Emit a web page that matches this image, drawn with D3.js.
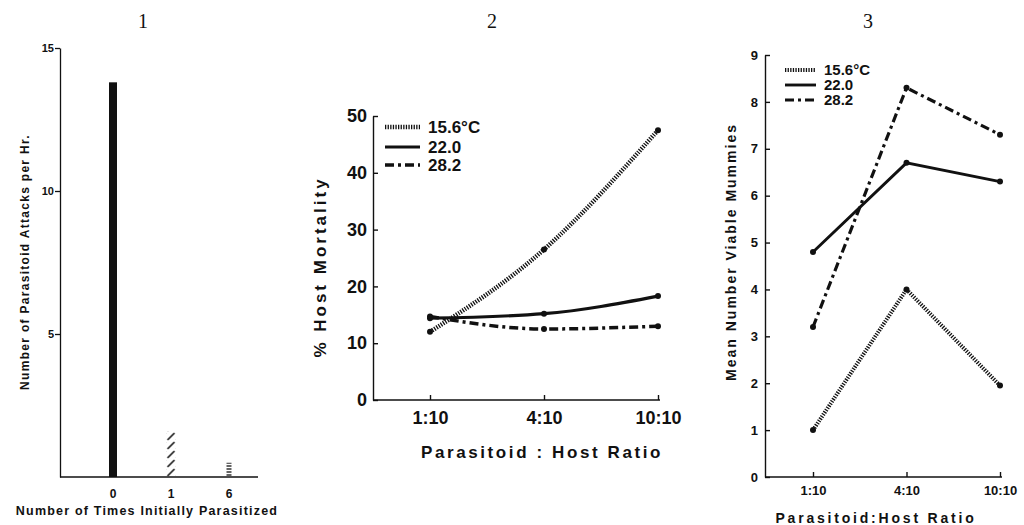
<!DOCTYPE html>
<html>
<head>
<meta charset="utf-8">
<title>Parasitoid figures 1-3</title>
<script src="https://cdn.jsdelivr.net/npm/d3@7"></script>
<style>
 body { margin: 0; background: #fff; }
 svg { display: block; }
 text { font-family: "Liberation Sans", Arial, sans-serif; font-weight: bold; fill: #111; }
 .title { font-family: "Liberation Serif", "Times New Roman", serif; font-weight: normal; font-size: 20px; }
</style>
</head>
<body>
<svg id="chart" width="1024" height="525"></svg>
<script>
// ---- data ----
// panel 1
var timesCats = ["0", "1", "6"];
var attacksPerHr = [13.8, 1.6, 0.5];
var attackTicks = [5, 10, 15];

// panels 2 and 3
var ratioCats = ["1:10", "4:10", "10:10"];
var tempLabels = ["15.6\u00B0C", "22.0", "28.2"];
var mortality156 = [12.0, 26.5, 47.5];
var mortality220 = [14.4, 15.2, 18.3];
var mortality282 = [14.7, 12.5, 13.0];
var mortalityTicks = [0, 10, 20, 30, 40, 50];
var mummies156 = [1.0, 4.0, 1.95];
var mummies220 = [4.8, 6.7, 6.3];
var mummies282 = [3.2, 8.3, 7.3];
var mummyTicks = [0, 1, 2, 3, 4, 5, 6, 7, 8, 9];

// line looks, one per temperature
var lineLook = [
  {width: 4.5, dash: "1.3,1.3"},
  {width: 3.2, dash: null},
  {width: 3.5, dash: "9,4,3,4"}
];

var svg = d3.select("#chart");
var defs = svg.append("defs");

// ================= panel 1 =================
var p1 = svg.append("g");
var x1 = d3.scaleBand().domain(timesCats).range([84, 258]);
var y1 = d3.scaleLinear().domain([0, 15]).range([477, 48]);
var barW = [8, 9, 5];

defs.append("pattern").attr("id", "slash")
  .attr("patternUnits", "userSpaceOnUse").attr("width", 9).attr("height", 9)
  .attr("x", x1("1") + x1.bandwidth() / 2 - 4.5).attr("y", y1(0))
  .append("line").attr("x1", 1).attr("y1", 8).attr("x2", 8).attr("y2", 1)
  .attr("stroke", "#111").attr("stroke-width", 1.6);
defs.append("pattern").attr("id", "hline")
  .attr("patternUnits", "userSpaceOnUse").attr("width", 6).attr("height", 3)
  .attr("y", y1(0))
  .append("line").attr("x1", 0).attr("y1", 1).attr("x2", 6).attr("y2", 1)
  .attr("stroke", "#111").attr("stroke-width", 1.3);
var barFill = ["#111", "url(#slash)", "url(#hline)"];

p1.selectAll("rect.bar").data(attacksPerHr).enter().append("rect")
  .attr("class", "bar")
  .attr("x", function(d, i) { return x1(timesCats[i]) + x1.bandwidth() / 2 - barW[i] / 2; })
  .attr("width", function(d, i) { return barW[i]; })
  .attr("y", function(d) { return y1(d); })
  .attr("height", function(d) { return y1(0) - y1(d); })
  .attr("fill", function(d, i) { return barFill[i]; });

var y1Axis = p1.append("g").attr("transform", "translate(60,0)")
  .call(d3.axisLeft(y1).tickValues(attackTicks).tickSize(5).tickPadding(1).tickSizeOuter(0));
y1Axis.selectAll("text").style("font-size", "11px");
y1Axis.selectAll("line, path").attr("stroke", "#111").attr("stroke-width", 1.3);

var x1Axis = p1.append("g").attr("transform", "translate(0," + y1(0) + ")")
  .call(d3.axisBottom(x1).tickSize(0).tickPadding(12));
x1Axis.select(".domain").remove();
x1Axis.selectAll("text").style("font-size", "12px");
p1.append("line").attr("x1", 60).attr("x2", 258).attr("y1", y1(0)).attr("y2", y1(0))
  .attr("stroke", "#111").attr("stroke-width", 1.5);

p1.append("text").attr("class", "title").attr("x", 143).attr("y", 28)
  .attr("text-anchor", "middle").text("1");
p1.append("text").attr("transform", "translate(29,262) rotate(-90)")
  .attr("text-anchor", "middle").style("font-size", "12px").style("letter-spacing", "1.3px")
  .text("Number of Parasitoid Attacks per Hr.");
p1.append("text").attr("x", 147).attr("y", 515).attr("text-anchor", "middle")
  .style("font-size", "12.5px").style("letter-spacing", "1.2px")
  .text("Number of Times Initially Parasitized");

// ============ shared line panel drawing ============
function linePanel(cfg) {
  var g = svg.append("g");
  var x = d3.scalePoint().domain(ratioCats).range(cfg.xRange);
  var y = d3.scaleLinear().domain(cfg.yDomain).range(cfg.yRange);

  var ya = g.append("g").attr("transform", "translate(" + cfg.axisX + ",0)")
    .call(d3.axisLeft(y).tickValues(cfg.yTicks).tickSize(-5).tickPadding(cfg.yPad).tickSizeOuter(0));
  ya.selectAll("text").style("font-size", cfg.tickFont + "px");
  ya.selectAll("line, path").attr("stroke", "#111").attr("stroke-width", 1.4);

  var xa = g.append("g").attr("transform", "translate(0," + y(0) + ")")
    .call(d3.axisBottom(x).tickSize(-5).tickPadding(cfg.xPad));
  xa.select(".domain").remove();
  xa.selectAll("text").style("font-size", cfg.tickFont + "px");
  xa.selectAll("line").attr("stroke", "#111").attr("stroke-width", 1.4);
  g.append("line").attr("x1", cfg.axisX).attr("x2", cfg.xRange[1] + 2)
    .attr("y1", y(0)).attr("y2", y(0)).attr("stroke", "#111").attr("stroke-width", 1.5);

  var line = d3.line()
    .x(function(d, i) { return x(ratioCats[i]); })
    .y(function(d) { return y(d); })
    .curve(cfg.curve);

  cfg.series.forEach(function(s, k) {
    g.append("path").datum(s).attr("d", line)
      .attr("fill", "none").attr("stroke", "#111")
      .attr("stroke-width", lineLook[k].width * cfg.lineScale)
      .attr("stroke-dasharray", lineLook[k].dash);
    g.selectAll(null).data(s).enter().append("circle")
      .attr("cx", function(d, i) { return x(ratioCats[i]); })
      .attr("cy", function(d) { return y(d); })
      .attr("r", 3).attr("fill", "#111");
  });

  // legend
  tempLabels.forEach(function(t, k) {
    var ly = cfg.legY[k];
    g.append("line").attr("x1", cfg.legX[0]).attr("x2", cfg.legX[1])
      .attr("y1", ly).attr("y2", ly).attr("stroke", "#111")
      .attr("stroke-width", lineLook[k].width * cfg.lineScale)
      .attr("stroke-dasharray", lineLook[k].dash);
    g.append("text").attr("x", cfg.legX[1] + 8).attr("y", ly).attr("dy", "0.36em")
      .style("font-size", cfg.legFont + "px").text(t);
  });

  g.append("text").attr("class", "title").attr("x", cfg.titleX).attr("y", 28)
    .attr("text-anchor", "middle").text(cfg.title);
  g.append("text").attr("transform", "translate(" + cfg.yLabPos[0] + "," + cfg.yLabPos[1] + ") rotate(-90)")
    .attr("text-anchor", "middle").attr("dy", "0.36em")
    .style("font-size", cfg.labFont + "px").style("letter-spacing", cfg.yLabSpacing + "px")
    .text(cfg.yLabel);
  g.append("text").attr("x", cfg.xLabPos[0]).attr("y", cfg.xLabPos[1]).attr("dy", "0.36em")
    .attr("text-anchor", "middle")
    .style("font-size", cfg.labFont + "px").style("letter-spacing", cfg.xLabSpacing + "px")
    .text(cfg.xLabel);
}

// ================= panel 2 =================
linePanel({
  title: "2", titleX: 492,
  axisX: 373, xRange: [430, 658],
  yDomain: [0, 50], yRange: [400, 116], yTicks: mortalityTicks,
  series: [mortality156, mortality220, mortality282],
  curve: d3.curveMonotoneX, lineScale: 1,
  tickFont: 18, yPad: 6, xPad: 11,
  legX: [385, 420], legY: [127, 147, 165], legFont: 17,
  labFont: 17, yLabel: "% Host Mortality", yLabPos: [320, 267], yLabSpacing: 3,
  xLabel: "Parasitoid : Host Ratio", xLabPos: [542, 452], xLabSpacing: 2.6
});

// ================= panel 3 =================
linePanel({
  title: "3", titleX: 868,
  axisX: 765, xRange: [813, 1000],
  yDomain: [0, 9], yRange: [477, 55], yTicks: mummyTicks,
  series: [mummies156, mummies220, mummies282],
  curve: d3.curveLinear, lineScale: 0.9,
  tickFont: 13, yPad: 7, xPad: 9,
  legX: [785, 816], legY: [70, 85, 100], legFont: 15,
  labFont: 14, yLabel: "Mean Number Viable Mummies", yLabPos: [731, 252], yLabSpacing: 2,
  xLabel: "Parasitoid:Host Ratio", xLabPos: [876, 518], xLabSpacing: 2.8
});
</script>
</body>
</html>
